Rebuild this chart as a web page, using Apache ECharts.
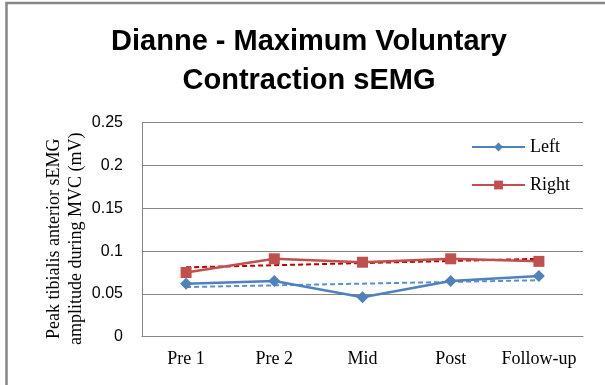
<!DOCTYPE html>
<html>
<head>
<meta charset="utf-8">
<script src="https://cdn.jsdelivr.net/npm/echarts@6/dist/echarts.min.js"></script>
<style>
  html, body { margin: 0; padding: 0; background: #fff; }
  #chart { width: 605px; height: 385px; }
</style>
</head>
<body>
<div id="chart"></div>
<script>
// Sessions and peak tibialis anterior sEMG amplitudes (mV)
const sessions = ['Pre 1', 'Pre 2', 'Mid', 'Post', 'Follow-up'];
const leftValues = [0.062, 0.065, 0.046, 0.065, 0.071];
const rightValues = [0.075, 0.091, 0.087, 0.091, 0.088];
// Linear trend lines, first and last session
const leftTrend = [0.058, 0.066];
const rightTrend = [0.081, 0.091];
const yTicks = [0, 0.05, 0.1, 0.15, 0.2, 0.25];

const chart = echarts.init(document.getElementById('chart'));
const serif = '"Liberation Serif", "Times New Roman", serif';
const sans = '"Liberation Sans", Arial, sans-serif';
const last = sessions.length - 1;

chart.setOption({
  animation: false,
  backgroundColor: '#fff',
  title: {
    text: 'Dianne - Maximum Voluntary\nContraction sEMG',
    left: 304, textAlign: 'center', top: 17,
    textStyle: { fontFamily: sans, fontWeight: 'bold', fontSize: 29, lineHeight: 39, color: '#000' }
  },
  legend: {
    orient: 'vertical', left: 466, top: 133, itemGap: 20,
    itemWidth: 53, itemHeight: 11,
    textStyle: { fontFamily: serif, fontSize: 18, color: '#000' },
    data: ['Left', 'Right']
  },
  grid: { left: 142, right: 22, top: 122.7, bottom: 48.3, containLabel: false },
  xAxis: {
    type: 'category', data: sessions, boundaryGap: true,
    axisLine: { lineStyle: { color: '#868686', width: 1 } },
    axisTick: { show: false },
    axisLabel: { interval: 0, fontFamily: serif, fontSize: 18, color: '#000', margin: 14 }
  },
  yAxis: {
    type: 'value', min: yTicks[0], max: yTicks[yTicks.length - 1], interval: 0.05,
    name: 'Peak tibialis anterior sEMG\namplitude during MVC (mV)',
    nameLocation: 'middle', nameGap: 55, nameRotate: 90, nameMoveOverlap: false,
    nameTextStyle: { fontFamily: serif, fontSize: 18, color: '#000', lineHeight: 22, padding: [0, 18, 0, 0] },
    axisLine: { show: true, lineStyle: { color: '#868686' } },
    axisTick: { show: false },
    axisLabel: { fontFamily: sans, fontSize: 16, color: '#000', margin: 19,
      formatter: v => String(parseFloat(v.toFixed(2))) },
    splitLine: { lineStyle: { color: '#868686', width: 1 } }
  },
  series: [
    {
      name: 'Left', type: 'line', data: leftValues,
      symbol: 'diamond', symbolSize: 12,
      lineStyle: { color: '#4F81BD', width: 2.5 },
      itemStyle: { color: '#4F81BD' }, z: 4
    },
    {
      name: 'Right', type: 'line', data: rightValues,
      symbol: 'rect', symbolSize: 11,
      lineStyle: { color: '#C0504D', width: 2.5 },
      itemStyle: { color: '#C0504D' }, z: 4
    },
    {
      name: 'Left trend', type: 'line',
      data: [[0, leftTrend[0]], [last, leftTrend[1]]],
      symbol: 'none', silent: true,
      lineStyle: { color: '#5A8FD6', width: 2, type: [5, 3] }, z: 3
    },
    {
      name: 'Right trend', type: 'line',
      data: [[0, rightTrend[0]], [last, rightTrend[1]]],
      symbol: 'none', silent: true,
      lineStyle: { color: '#C00000', width: 2, type: [5, 3] }, z: 3
    }
  ],
  graphic: [{
    // chart frame: only its left and top edges fall inside the page
    type: 'rect', shape: { x: 6.5, y: 3, width: 700, height: 500 },
    style: { fill: 'none', stroke: '#868686', lineWidth: 2.5 }, silent: true
  }]
});
</script>
</body>
</html>
